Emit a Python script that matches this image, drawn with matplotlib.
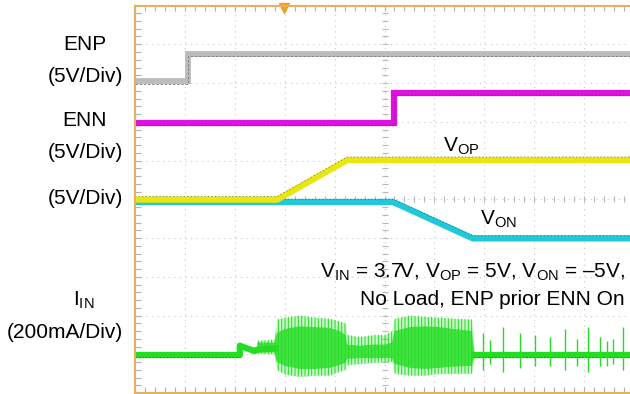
import numpy as np
import matplotlib.pyplot as plt

plt.rcParams['font.family'] = ['Liberation Sans', 'DejaVu Sans']
plt.rcParams['mathtext.fontset'] = 'custom'
plt.rcParams['mathtext.rm'] = 'Liberation Sans'
plt.rcParams['mathtext.it'] = 'Liberation Sans:italic'
plt.rcParams['hatch.linewidth'] = 0.7

# traces, x and y in scope divisions (x 0..10, y 0..10 from bottom)
enp_t = [0, 1.06, 1.06, 10]
enp_v = [8.05, 8.05, 8.76, 8.76]

enn_t = [0, 5.19, 5.19, 10]
enn_v = [6.98, 6.98, 7.75, 7.75]

vop_t = [0, 2.85, 4.25, 10]
vop_v = [4.99, 4.99, 6.01, 6.01]

von_t = [0, 5.17, 6.77, 10]
von_v = [4.93, 4.93, 3.99, 3.99]

# input current: quiet parts
iin_t = [0, 2.10, 2.10, 2.40, 2.45, 2.80]
iin_v = [0.98, 0.98, 1.22, 1.08, 1.12, 1.15]
iin_t2 = [6.80, 10]
iin_v2 = [0.98, 0.98]

# input current: noise envelope (outer) and dense core
burst_t = [2.45, 2.80, 2.84, 3.00, 3.30, 3.60, 3.90, 4.10, 4.22, 4.25, 4.50,
           4.80, 5.00, 5.15, 5.20, 5.50, 5.80, 6.10, 6.40, 6.75, 6.80]
burst_hi = [1.35, 1.38, 1.90, 1.95, 2.00, 1.95, 1.92, 1.85, 1.80, 1.50, 1.45,
            1.50, 1.50, 1.60, 1.92, 2.00, 1.97, 1.95, 1.92, 1.90, 1.10]
burst_lo = [1.02, 1.00, 0.60, 0.48, 0.42, 0.45, 0.45, 0.55, 0.60, 0.72, 0.75,
            0.78, 0.80, 0.80, 0.50, 0.45, 0.45, 0.50, 0.50, 0.50, 0.90]
core_hi = [1.30, 1.30, 1.55, 1.65, 1.72, 1.70, 1.68, 1.60, 1.50, 1.25, 1.22,
           1.25, 1.25, 1.30, 1.60, 1.70, 1.72, 1.70, 1.65, 1.60, 1.05]
core_lo = [1.05, 1.05, 0.80, 0.70, 0.62, 0.62, 0.65, 0.72, 0.78, 0.88, 0.90,
           0.90, 0.90, 0.90, 0.75, 0.65, 0.62, 0.65, 0.68, 0.70, 0.92]

spike_t = [6.97, 7.11, 7.37, 7.72, 8.02, 8.32, 8.62, 8.86, 9.08, 9.32, 9.46, 9.58, 9.78]
spike_hi = [1.55, 1.37, 1.70, 1.55, 1.50, 1.45, 1.65, 1.40, 1.70, 1.45, 1.35, 1.40, 1.70]
spike_lo = [0.60, 0.75, 0.55, 0.65, 0.70, 0.70, 0.60, 0.70, 0.55, 0.70, 0.70, 0.75, 0.60]

trig_x = 2.99

fig = plt.figure(figsize=(6.30, 3.94), dpi=100)
ax = fig.add_axes([135 / 630, 1 / 394, 499 / 630, 387.5 / 394])
ax.set_xlim(0, 10)
ax.set_ylim(0, 10)

frame = '#e6b060'
for s in ['left', 'top', 'bottom']:
    ax.spines[s].set_color(frame)
    ax.spines[s].set_linewidth(1.5)
ax.spines['right'].set_visible(False)
ax.set_xticks([])
ax.set_yticks([])

# dotted grid
for k in range(1, 10):
    ax.axvline(k, color='#c8c8c8', lw=0.8, ls=(0, (1, 4)), zorder=0)
    ax.axhline(k, color='#c8c8c8', lw=0.8, ls=(0, (1, 4)), zorder=0)

# minor tick marks on edges and center lines
mt = np.arange(0, 10.01, 0.2)
ax.plot(mt, np.full_like(mt, 9.93), ls='none', marker='|', ms=4, color='#b0b0b0', mew=0.8)
ax.plot(mt, np.full_like(mt, 0.07), ls='none', marker='|', ms=4, color='#b0b0b0', mew=0.8)
ax.plot(mt, np.full_like(mt, 5.0), ls='none', marker='|', ms=4, color='#b8b8b8', mew=0.8, zorder=0)
ax.plot(np.full_like(mt, 0.06), mt, ls='none', marker='_', ms=4, color='#b0b0b0', mew=0.8)
ax.plot(np.full_like(mt, 5.0), mt, ls='none', marker='_', ms=4, color='#b8b8b8', mew=0.8, zorder=0)

# trigger marker
ax.plot([trig_x], [9.93], marker='v', ms=7, color='#f0a020', clip_on=False)

# ENP
ax.plot(enp_t, enp_v, color='#bcbcbc', lw=4.2, solid_joinstyle='miter')
ax.plot(enp_t, np.array(enp_v) - 0.07, color='#7a7a7a', lw=0.6, ls=(0, (3, 2)))

# ENN
ax.plot(enn_t, enn_v, color='#e010e0', lw=4.5, solid_joinstyle='miter')
ax.plot(enn_t, np.array(enn_v) - 0.07, color='#801880', lw=0.5, ls=(0, (2, 3)))

# VON then VOP on top
ax.plot(von_t, von_v, color='#20c8d8', lw=4.5)
ax.plot(von_t, np.array(von_v) + 0.07, color='#1a7080', lw=0.5, ls=(0, (2, 3)))
ax.plot(vop_t, vop_v, color='#e8e810', lw=4.5)
ax.plot(vop_t, np.array(vop_v) + 0.08, color='#707010', lw=0.5, ls=(0, (2, 3)))

# IIN
green = '#22dd22'
ax.fill_between(burst_t, burst_lo, burst_hi, facecolor='none', edgecolor=green,
                hatch='|||||', lw=0)
ax.fill_between(burst_t, burst_lo, burst_hi, color=green, alpha=0.25, lw=0)
ax.fill_between(burst_t, core_lo, core_hi, facecolor=green, alpha=0.8, lw=0)
ax.plot(iin_t, iin_v, color=green, lw=4.5)
ax.plot(iin_t2, iin_v2, color=green, lw=4.5)
ax.plot(iin_t[:2], np.array(iin_v[:2]) - 0.06, color='#0a6a0a', lw=0.5, ls=(0, (2, 3)))
ax.plot(iin_t2, np.array(iin_v2) - 0.06, color='#0a6a0a', lw=0.5, ls=(0, (2, 3)))
ax.vlines(spike_t, spike_lo, spike_hi, color=green, lw=1.0)

# trace labels inside the grid
ax.text(6.18, 6.22, r'$\mathrm{V_{OP}}$', fontsize=15, ha='left', va='baseline')
ax.text(6.92, 4.34, r'$\mathrm{V_{ON}}$', fontsize=15, ha='left', va='baseline')
ax.text(9.82, 3.12, r'$\mathrm{V_{IN}}$ = 3.7V, $\mathrm{V_{OP}}$ = 5V, $\mathrm{V_{ON}}$ = –5V,',
        fontsize=15, ha='right', va='center')
ax.text(9.82, 2.42, 'No Load, ENP prior ENN On', fontsize=15, ha='right', va='center')

# channel labels on the left
def lab(x, y, s, ha='center'):
    fig.text(x / 630, 1 - y / 394, s, fontsize=15, ha=ha, va='center')

lab(85, 45, 'ENP')
lab(85, 76, '(5V/Div)')
lab(85, 120, 'ENN')
lab(85, 152, '(5V/Div)')
lab(85, 199, '(5V/Div)')
lab(84, 300, r'$\mathrm{I_{IN}}$')
lab(123, 332, '(200mA/Div)', ha='right')

fig.savefig('out.png', dpi=100)
